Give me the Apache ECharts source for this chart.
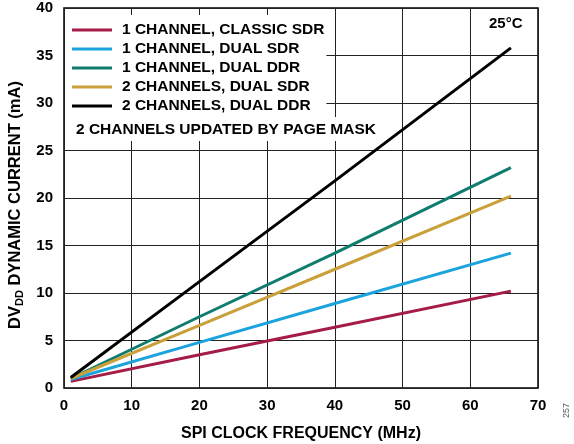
<!DOCTYPE html>
<html>
<head>
<meta charset="utf-8">
<script src="https://cdn.jsdelivr.net/npm/echarts@6/dist/echarts.min.js"></script>
<style>html,body{margin:0;padding:0;background:#fff}#c{width:574px;height:444px}</style>
</head>
<body>
<div id="c"></div>
<script>
var freq = [1, 20, 40, 66];
var seriesNames = ['1 CHANNEL, CLASSIC SDR', '1 CHANNEL, DUAL SDR', '1 CHANNEL, DUAL DDR', '2 CHANNELS, DUAL SDR', '2 CHANNELS, DUAL DDR'];
var oneClassicSdr = [0.7, 3.5, 6.4, 10.2];
var oneDualSdr = [0.9, 4.8, 8.9, 14.2];
var oneDualDdr = [1.0, 7.5, 14.2, 23.2];
var twoDualSdr = [1.0, 6.6, 12.5, 20.2];
var twoDualDdr = [1.1, 11.2, 21.8, 35.8];
var colors = ['#a51c46', '#1ba3dd', '#0f7c6f', '#c9a03a', '#000000'];
var xTicks = [0, 10, 20, 30, 40, 50, 60, 70];
var yTicks = [0, 5, 10, 15, 20, 25, 30, 35, 40];

var allValues = [oneClassicSdr, oneDualSdr, oneDualDdr, twoDualSdr, twoDualDdr];
var FONT = '"Liberation Sans", Arial, sans-serif';

var chart = echarts.init(document.getElementById('c'), null, {renderer: 'canvas'});
var series = allValues.map(function (vals, i) {
  return {
    name: seriesNames[i],
    type: 'line',
    showSymbol: false,
    symbol: 'none',
    data: freq.map(function (f, j) { return [f, vals[j]]; }),
    lineStyle: {color: colors[i], width: 3},
    itemStyle: {color: colors[i]},
    z: 3
  };
});

chart.setOption({
  animation: false,
  backgroundColor: '#fff',
  textStyle: {fontFamily: FONT},
  grid: {left: 64, right: 36, top: 8, bottom: 56, show: true, borderColor: '#000', borderWidth: 1.5, backgroundColor: 'transparent', containLabel: false, outerBoundsMode: 'none'},
  legend: {
    orient: 'vertical',
    left: 65, top: 15,
    padding: [7, 2, 27, 7],
    backgroundColor: '#fff',
    itemWidth: 40, itemHeight: 3,
    itemGap: 3,
    icon: 'rect',
    data: seriesNames,
    textStyle: {fontFamily: FONT, fontSize: 15.5, fontWeight: 'bold', color: '#000', lineHeight: 16, padding: [0, 0, 0, 5]},
    z: 5
  },
  xAxis: {
    type: 'value', min: xTicks[0], max: xTicks[xTicks.length - 1], interval: 10,
    name: 'SPI CLOCK FREQUENCY (MHz)', nameLocation: 'middle', nameGap: 38,
    nameTextStyle: {fontFamily: FONT, fontSize: 16, fontWeight: 'bold', color: '#000'},
    axisLine: {show: false}, axisTick: {show: false},
    axisLabel: {fontFamily: FONT, fontSize: 15, fontWeight: 'bold', color: '#000', margin: 10},
    splitLine: {show: true, lineStyle: {color: '#222', width: 1}}
  },
  yAxis: {
    type: 'value', min: yTicks[0], max: yTicks[yTicks.length - 1], interval: 5,
    name: '{a|DV}{b|DD}{a| DYNAMIC CURRENT (mA)}', nameLocation: 'middle', nameGap: 36,
    nameTextStyle: {
      fontFamily: FONT, fontSize: 16.5, fontWeight: 'bold', color: '#000',
      padding: [0, 14, 0, 0],
      rich: {
        a: {fontFamily: FONT, fontSize: 16.5, fontWeight: 'bold', color: '#000', lineHeight: 20},
        b: {fontFamily: FONT, fontSize: 11, fontWeight: 'bold', color: '#000', lineHeight: 11, verticalAlign: 'bottom'}
      }
    },
    axisLine: {show: false}, axisTick: {show: false},
    axisLabel: {fontFamily: FONT, fontSize: 15, fontWeight: 'bold', color: '#000', margin: 11},
    splitLine: {show: true, lineStyle: {color: '#222', width: 1}}
  },
  graphic: [
    {type: 'text', left: 76, top: 117, z: 100,
     style: {text: '2 CHANNELS UPDATED BY PAGE MASK', font: 'bold 15.5px ' + FONT, fill: '#000', backgroundColor: '#fff', padding: [5, 4, 3, 0]}},
    {type: 'text', left: 489, top: 16, z: 100,
     style: {text: '25°C', font: 'bold 15px ' + FONT, fill: '#000'}},
    {type: 'text', x: 562, y: 418, rotation: Math.PI / 2, z: 100,
     style: {text: '257', font: '9px ' + FONT, fill: '#555'}}
  ],
  series: series
});
</script>
</body>
</html>
